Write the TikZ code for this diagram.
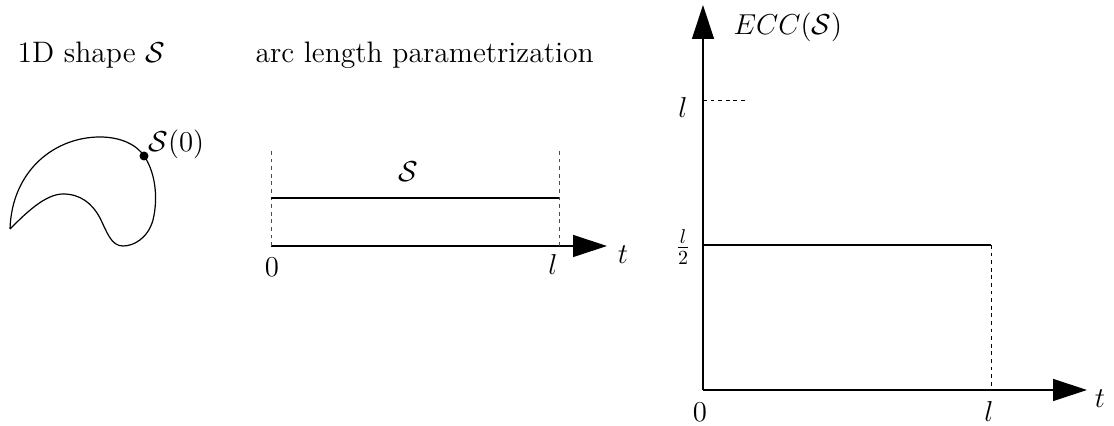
\documentclass[tikz,border=0pt]{standalone}
\usepackage{amsmath,amssymb}
\usepackage{tikz}
\usetikzlibrary{arrows.meta}

\begin{document}
\begin{tikzpicture}[x=0.5pt, y=-0.5pt, line width=0.6pt,
          every node/.style={font=\fontsize{14.8}{18}\selectfont},
          axis/.style={-{Triangle[length=17pt,width=11pt]}},
          guide/.style={line width=0.5pt,dash pattern=on 1.9pt off 1.9pt},
          dot/.style={circle,fill,inner sep=0pt,minimum size=4.5pt},
          lbl/.style={inner sep=0pt}
      ]
        \useasboundingbox (0,0) rectangle (1114,426);
        % titles
        \node[lbl,anchor=base west] (title1) at (17,63)  {1D shape $\mathcal{S}$};
        \node[lbl,anchor=base west] (title2) at (255,63) {arc length parametrization};
        % the shape
        \draw (10,229) .. controls (12,170) and (55,137) .. (100,137)
              .. controls (121,137) and (137,145) .. (144,156)
              .. controls (154,170) and (159,195) .. (153,220)
              .. controls (148,238) and (134,246) .. (123,246)
              .. controls (111,246) and (107,232) .. (100,218)
              .. controls (92,203) and (80,194) .. (63,194)
              .. controls (45,194) and (25,214) .. (10,229);
        \node[dot] (s0) at (144,156) {};
        \node[lbl,anchor=west] (s0lbl) at (148,144) {$\mathcal{S}(0)$};
        % parametrization
        \coordinate (o1)   at (271,246);
        \coordinate (e1)   at (607,246);
        \coordinate (l1)   at (559,246);
        \coordinate (o1up) at (271,149);
        \coordinate (l1up) at (559,149);
        \coordinate (s1a)  at (271,198);
        \coordinate (s1b)  at (559,198);
        \draw[axis] (o1) -- (e1);
        \draw[guide,black!70] (o1) -- (o1up);
        \draw[guide,black!70] (l1) -- (l1up);
        \draw (s1a) -- (s1b);
        \node[lbl] (s1lbl) at (408,172) {$\mathcal{S}$};
        \node[lbl] (o1lbl) at (272,267) {$0$};
        \node[lbl] (l1lbl) at (553,265) {$l$};
        \node[lbl] (t1lbl) at (623,255) {$t$};
        % eccentricity
        \coordinate (o2)  at (703,390);
        \coordinate (xe)  at (1087,390);
        \coordinate (ye)  at (703,5);
        \coordinate (l2)  at (991,390);
        \coordinate (h2)  at (991,245);
        \coordinate (h0)  at (703,245);
        \coordinate (ly)  at (703,101);
        \coordinate (lyd) at (747,101);
        \draw[axis] (o2) -- (xe);
        \draw[axis] (o2) -- (ye);
        \draw (h0) -- (h2);
        \draw[guide] (h2) -- (l2);
        \draw[guide] (ly) -- (lyd);
        \node[lbl,anchor=west] (ecc) at (733,27) {$ECC(\mathcal{S})$};
        \node[lbl] (lylbl) at (683,108) {$l$};
        \node[lbl] (hlbl)  at (683,247) {$\frac{l}{2}$};
        \node[lbl] (o2lbl) at (700,412) {$0$};
        \node[lbl] (l2lbl) at (989,412) {$l$};
        \node[lbl] (t2lbl) at (1100,399) {$t$};
      \end{tikzpicture}
\end{document}
